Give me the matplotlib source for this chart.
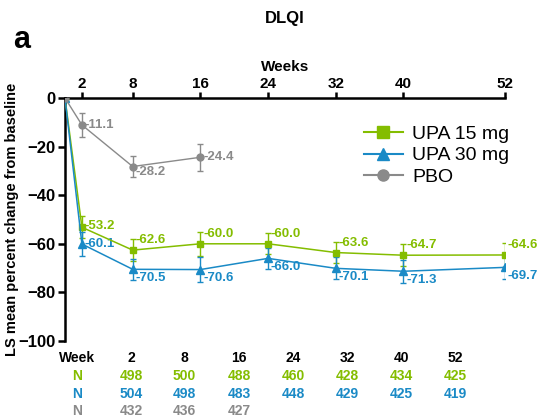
import matplotlib.pyplot as plt
from matplotlib.lines import Line2D

# data
weeks = [0, 2, 8, 16, 24, 32, 40, 52]
upa15 = [0, -53.2, -62.6, -60.0, -60.0, -63.6, -64.7, -64.6]
upa15_err = [0, 4.5, 4.5, 5.0, 4.3, 4.2, 4.5, 4.8]
upa30 = [0, -60.1, -70.5, -70.6, -66.0, -70.1, -71.3, -69.7]
upa30_err = [0, 4.8, 4.4, 5.0, 4.4, 4.5, 4.8, 4.8]
pbo_weeks = [0, 2, 8, 16]
pbo = [0, -11.1, -28.2, -24.4]
pbo_err = [0, 5.0, 4.5, 5.5]

tick_weeks = [2, 8, 16, 24, 32, 40, 52]
n_upa15 = [498, 500, 488, 460, 428, 434, 425]
n_upa30 = [504, 498, 483, 448, 429, 425, 419]
n_pbo = [432, 436, 427]

green = '#84bd00'
blue = '#1a8ac6'
grey = '#8a8a8a'

plt.rcParams['font.family'] = ['Liberation Sans', 'DejaVu Sans']

fig = plt.figure(figsize=(5.38, 4.18), dpi=100)
ax = fig.add_axes([0.1208, 0.1842, 0.8179, 0.5814])

ax.errorbar(weeks, upa15, yerr=upa15_err, color=green, marker='s', ms=5,
            lw=1.1, capsize=2.5, elinewidth=1.0, zorder=3)
ax.errorbar(weeks, upa30, yerr=upa30_err, color=blue, marker='^', ms=6,
            lw=1.1, capsize=2.5, elinewidth=1.0, zorder=3)
ax.errorbar(pbo_weeks, pbo, yerr=pbo_err, color=grey, marker='o', ms=5,
            lw=1.0, capsize=2.5, elinewidth=1.0, zorder=4)

# value labels
for i in range(1, len(weeks)):
    dy = 0 if i == 1 else 6
    ax.annotate('%.1f' % upa15[i], (weeks[i], upa15[i]), xytext=(2, dy + 1),
                textcoords='offset points', color=green, fontsize=9.5,
                fontweight='bold', ha='left', va='center', annotation_clip=False)
    dy = 0 if i == 1 else -6
    ax.annotate('%.1f' % upa30[i], (weeks[i], upa30[i]), xytext=(2, dy),
                textcoords='offset points', color=blue, fontsize=9.5,
                fontweight='bold', ha='left', va='center', annotation_clip=False)
for i in range(1, len(pbo_weeks)):
    dy = -4 if i == 2 else 0
    ax.annotate('%.1f' % pbo[i], (pbo_weeks[i], pbo[i]), xytext=(2, dy),
                textcoords='offset points', color=grey, fontsize=9.5,
                fontweight='bold', ha='left', va='center')

ax.set_xlim(0, 52)
ax.set_ylim(-100, 0)
ax.set_xticks(tick_weeks)
ax.set_yticks([0, -20, -40, -60, -80, -100])
ax.set_yticklabels(['0', '\u221220', '\u221240', '\u221260', '\u221280', '\u2212100'])
ax.xaxis.tick_top()
ax.xaxis.set_label_position('top')
ax.spines['bottom'].set_visible(False)
ax.spines['right'].set_visible(False)
ax.spines['left'].set_linewidth(1.8)
ax.spines['top'].set_linewidth(1.8)
ax.tick_params(axis='y', width=1.8, length=5, labelsize=12, pad=1.5)
ax.tick_params(axis='x', width=1.8, length=4, labelsize=11, pad=1)
for lab in ax.get_xticklabels() + ax.get_yticklabels():
    lab.set_fontweight('bold')
ax.set_xlabel('Weeks', fontsize=11, fontweight='bold', labelpad=4)
ax.set_ylabel('LS mean percent change from baseline', fontsize=10.5,
              fontweight='bold', labelpad=0)

# legend with plain line + marker handles
handles = [
    Line2D([], [], color=green, marker='s', ms=8, lw=1.5),
    Line2D([], [], color=blue, marker='^', ms=9, lw=1.5),
    Line2D([], [], color=grey, marker='o', ms=8, lw=1.5),
]
ax.legend(handles, ['UPA 15 mg', 'UPA 30 mg', 'PBO'], loc='upper right',
          bbox_to_anchor=(1.05, 0.96), frameon=False, fontsize=14,
          handlelength=2.0, labelspacing=0.2, handletextpad=0.5)

fig.text(0.53, 0.955, 'DLQI', fontsize=12, fontweight='bold', ha='center', va='center')
fig.text(0.04, 0.905, 'a', fontsize=22, fontweight='bold', ha='center', va='center')

# N table below
col_x = [131, 184, 239, 293, 347, 401, 455]
row_y = [358, 376, 394, 411]
fig.text(77 / 538, 1 - row_y[0] / 418, 'Week', fontsize=10, fontweight='bold',
         ha='center', va='center')
for x, w in zip(col_x, tick_weeks):
    fig.text(x / 538, 1 - row_y[0] / 418, str(w), fontsize=10, fontweight='bold',
             ha='center', va='center')
for row, vals, c in [(1, n_upa15, green), (2, n_upa30, blue), (3, n_pbo, grey)]:
    fig.text(77 / 538, 1 - row_y[row] / 418, 'N', fontsize=10, fontweight='bold',
             color=c, ha='center', va='center')
    for x, v in zip(col_x, vals):
        fig.text(x / 538, 1 - row_y[row] / 418, str(v), fontsize=10,
                 fontweight='bold', color=c, ha='center', va='center')

fig.savefig('out.png', dpi=100)
